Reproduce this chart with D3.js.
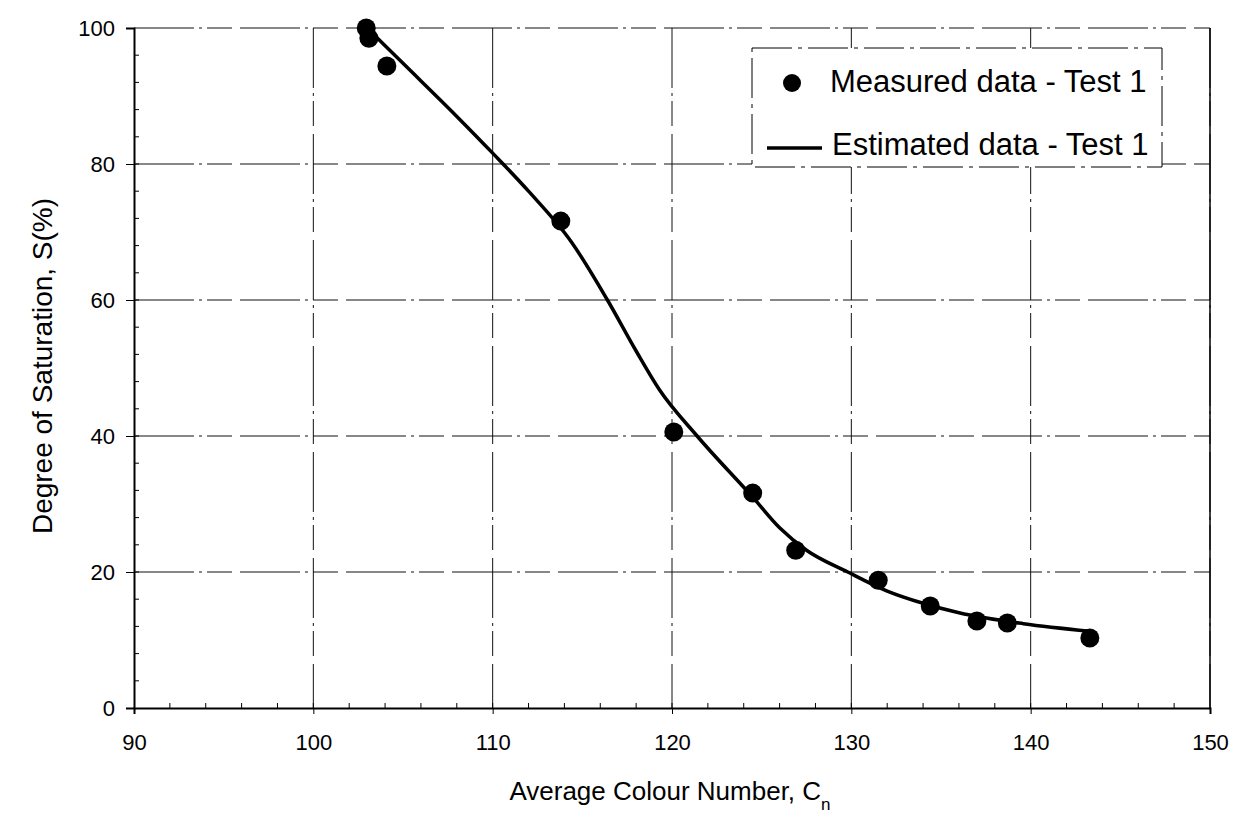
<!DOCTYPE html>
<html>
<head>
<meta charset="utf-8">
<script src="https://cdn.jsdelivr.net/npm/d3@7"></script>
<style>
  body { margin: 0; background: #fff; }
  svg { font-family: "Liberation Sans", Arial, sans-serif; }
  .grid line { stroke: #111; stroke-width: 1; stroke-dasharray: 60,5,3,5,25,8; }
  .axis path, .axis line { stroke: #000; }
  .axis text { font-size: 22px; fill: #000; }
</style>
</head>
<body>
<div id="chart"></div>
<script>
// measured points
var measuredX = [102.95, 103.1, 104.1, 113.8, 120.1, 124.5, 126.9, 131.5, 134.4, 137.0, 138.7, 143.3];
var measuredY = [100, 98.5, 94.4, 71.6, 40.6, 31.6, 23.2, 18.8, 15.0, 12.8, 12.5, 10.3];

// fitted curve
var estimatedX = [103, 105, 108, 110, 112, 114.4, 116.4, 118, 119.3, 121.4, 124.5, 126, 127.5, 129.8, 132, 134, 136, 139.6, 143.3];
var estimatedY = [100, 94.8, 87, 81.6, 76, 68.5, 60, 52.5, 46.8, 40, 31, 26.5, 23.2, 20, 17.2, 15.4, 14, 12.4, 11.3];

var xTicks = [90, 100, 110, 120, 130, 140, 150];
var yTicks = [0, 20, 40, 60, 80, 100];

var width = 1253, height = 819;
var margin = { top: 28, right: 43, bottom: 111, left: 134 };
var w = width - margin.left - margin.right,
    h = height - margin.top - margin.bottom;

var svg = d3.select("#chart").append("svg")
  .attr("width", width)
  .attr("height", height);

var g = svg.append("g")
  .attr("transform", "translate(" + margin.left + "," + margin.top + ")");

var x = d3.scaleLinear().domain([90, 150]).range([0, w]);
var y = d3.scaleLinear().domain([0, 100]).range([h, 0]);

// grid
g.append("g").attr("class", "grid")
  .selectAll("line").data(xTicks.slice(1))
  .enter().append("line")
  .attr("x1", function(d) { return x(d); })
  .attr("x2", function(d) { return x(d); })
  .attr("y1", 0).attr("y2", h);

g.append("g").attr("class", "grid")
  .selectAll("line").data(yTicks.slice(1))
  .enter().append("line")
  .attr("x1", 0).attr("x2", w)
  .attr("y1", function(d) { return y(d); })
  .attr("y2", function(d) { return y(d); });

// minor ticks (inside)
g.append("g").selectAll("line").data(d3.range(92, 150, 2))
  .enter().append("line")
  .attr("x1", function(d) { return x(d); }).attr("x2", function(d) { return x(d); })
  .attr("y1", h).attr("y2", h - 5)
  .attr("stroke", "#000");

g.append("g").selectAll("line").data(d3.range(4, 100, 4))
  .enter().append("line")
  .attr("x1", 0).attr("x2", 5)
  .attr("y1", function(d) { return y(d); }).attr("y2", function(d) { return y(d); })
  .attr("stroke", "#000");

// axes
var xAxis = d3.axisBottom(x).tickValues(xTicks).tickSize(6).tickPadding(20);
var yAxis = d3.axisLeft(y).tickValues(yTicks).tickSize(8).tickPadding(11);

g.append("g")
  .attr("class", "axis")
  .attr("transform", "translate(0," + h + ")")
  .call(xAxis)
  .select(".domain").attr("stroke-width", 2);

g.append("g")
  .attr("class", "axis")
  .call(yAxis)
  .select(".domain").attr("stroke-width", 2);

// right border
g.append("line")
  .attr("x1", w).attr("x2", w).attr("y1", 0).attr("y2", h)
  .attr("stroke", "#000").attr("stroke-width", 1.5);

// axis titles
svg.append("text")
  .attr("x", 670)
  .attr("y", 800)
  .attr("text-anchor", "middle")
  .style("font-size", "26px")
  .text("Average Colour Number, C")
  .append("tspan")
  .attr("baseline-shift", "sub")
  .style("font-size", "17px")
  .text("n");

svg.append("text")
  .attr("transform", "translate(52,366) rotate(-90)")
  .attr("text-anchor", "middle")
  .style("font-size", "28px")
  .text("Degree of Saturation, S(%)");

// estimated line
var points = estimatedX.map(function(d, i) { return [d, estimatedY[i]]; });
var line = d3.line()
  .x(function(d) { return x(d[0]); })
  .y(function(d) { return y(d[1]); })
  .curve(d3.curveMonotoneX);

g.append("path")
  .datum(points)
  .attr("fill", "none")
  .attr("stroke", "#000")
  .attr("stroke-width", 3.5)
  .attr("d", line);

// measured points
g.selectAll(".dot")
  .data(measuredX.map(function(d, i) { return [d, measuredY[i]]; }))
  .enter().append("circle")
  .attr("class", "dot")
  .attr("cx", function(d) { return x(d[0]); })
  .attr("cy", function(d) { return y(d[1]); })
  .attr("r", 9.5)
  .attr("fill", "#000");

// legend
var legend = svg.append("g").attr("transform", "translate(752,48)");
legend.append("rect")
  .attr("width", 410).attr("height", 119)
  .attr("fill", "#fff")
  .attr("stroke", "#000")
  .attr("stroke-dasharray", "40,6,4,6");
legend.append("circle")
  .attr("cx", 40).attr("cy", 35).attr("r", 9).attr("fill", "#000");
legend.append("text")
  .attr("x", 78).attr("y", 44)
  .style("font-size", "31px")
  .text("Measured data - Test 1");
legend.append("line")
  .attr("x1", 15).attr("x2", 70).attr("y1", 100).attr("y2", 100)
  .attr("stroke", "#000").attr("stroke-width", 3.5);
legend.append("text")
  .attr("x", 80).attr("y", 107)
  .style("font-size", "31px")
  .text("Estimated data - Test 1");
</script>
</body>
</html>
